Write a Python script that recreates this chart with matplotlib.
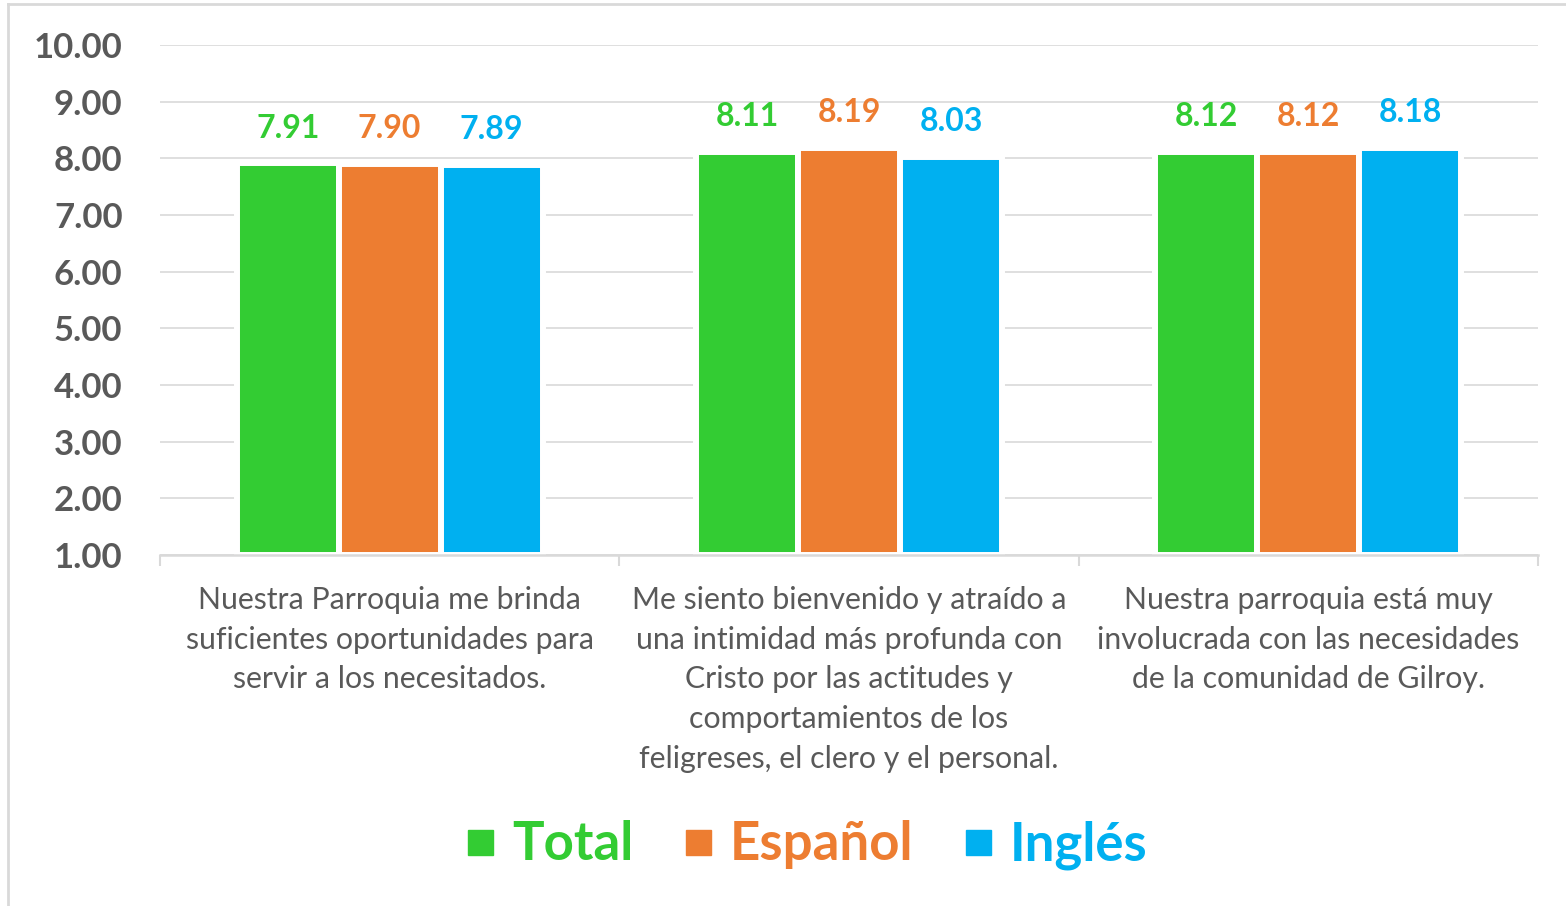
import matplotlib
matplotlib.use("Agg")
import matplotlib.pyplot as plt
from matplotlib.lines import Line2D
import numpy as np

categories = [
    "Nuestra Parroquia me brinda\nsuficientes oportunidades para\nservir a los necesitados.",
    "Me siento bienvenido y atraído a\nuna intimidad más profunda con\nCristo por las actitudes y\ncomportamientos de los\nfeligreses, el clero y el personal.",
    "Nuestra parroquia está muy\ninvolucrada con las necesidades\nde la comunidad de Gilroy.",
]
series_names = ["Total", "Español", "Inglés"]
total = [7.91, 8.11, 8.12]
espanol = [7.90, 8.19, 8.12]
ingles = [7.89, 8.03, 8.18]
yticks = [1, 2, 3, 4, 5, 6, 7, 8, 9, 10]

colors = ["#33CC33", "#ED7D31", "#00B0F0"]
grey = "#595959"
gridc = "#D9D9D9"
FONT = "Lato"

fig = plt.figure(figsize=(15.66, 9.06), dpi=100)
ax = fig.add_axes([160/1566, 1-555/906, 1378/1566, 510/906])

x = np.arange(len(categories))
w = 0.222
base = 1.0
for i, (vals, c) in enumerate(zip([total, espanol, ingles], colors)):
    pos = x + (i - 1) * w
    heights = [v - base for v in vals]
    ax.bar(pos, heights, width=w, bottom=base, color=c,
           edgecolor="white", linewidth=4.3, zorder=3)
    for p, v in zip(pos, vals):
        ax.annotate(f"{v:.2f}", xy=(p, v), xytext=(0, 15), textcoords="offset points",
                    ha="center", va="bottom", fontsize=23, fontweight="bold",
                    color=c, family=FONT)

ax.set_xlim(-0.5, 2.5)
ax.set_ylim(1, 10)
ax.set_yticks(yticks)
ax.set_yticklabels([f"{v:.2f}" for v in yticks], fontsize=25, fontweight="bold",
                   color=grey, family=FONT)
ax.tick_params(axis="y", length=0, pad=27)
ax.grid(axis="y", color=gridc, linewidth=1.2, zorder=0)
ax.set_axisbelow(True)

ax.set_xticks(x)
ax.set_xticklabels(categories, fontsize=21.8, color=grey, family=FONT, linespacing=1.52,
                   va="top")
ax.tick_params(axis="x", which="major", length=0, pad=22)
ax.set_xticks([-0.5, 0.5, 1.5, 2.5], minor=True)
ax.tick_params(axis="x", which="minor", length=8, width=1.5, color=gridc, direction="out")

for s in ["top", "right", "left"]:
    ax.spines[s].set_visible(False)
ax.spines["bottom"].set_color(gridc)
ax.spines["bottom"].set_linewidth(1.8)
ax.spines["bottom"].set_zorder(4)

handles = [Line2D([], [], marker="s", linestyle="none", markersize=18,
                  markerfacecolor=c, markeredgecolor=c) for c in colors]
leg = fig.legend(handles, series_names, loc="center", bbox_to_anchor=(802/1566, 1-845/906),
                 ncol=3, frameon=False, handletextpad=0.15, columnspacing=0.78,
                 handlelength=0.9, prop={"family": FONT, "weight": "bold", "size": 38})
for t, c in zip(leg.get_texts(), colors):
    t.set_color(c)

# outer chart border (left & top)
fig.add_artist(Line2D([8/1566, 8/1566], [0, 1-4/906], color=gridc, linewidth=2,
                      transform=fig.transFigure))
fig.add_artist(Line2D([8/1566, 1], [1-4/906, 1-4/906], color=gridc, linewidth=2,
                      transform=fig.transFigure))

fig.savefig("out.png", dpi=100)
